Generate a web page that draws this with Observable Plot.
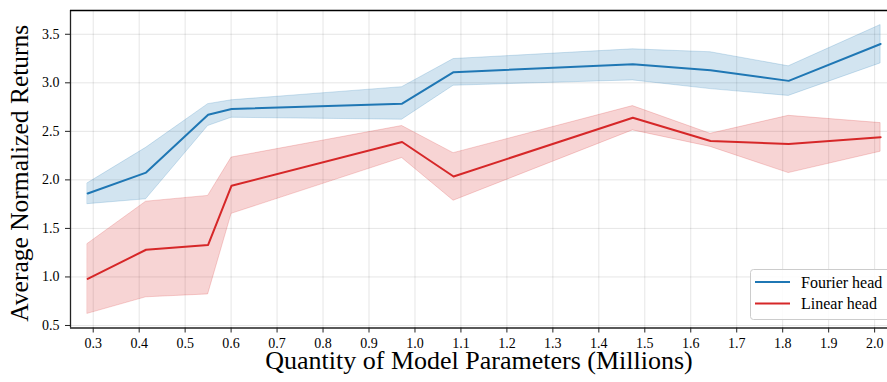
<!DOCTYPE html>
<html>
<head>
<meta charset="utf-8">
<script src="https://cdn.jsdelivr.net/npm/d3@7"></script>
<script src="https://cdn.jsdelivr.net/npm/@observablehq/plot@0.6"></script>
<style>
  html, body { margin: 0; padding: 0; background: #fff; overflow: hidden; }
  #chart { width: 887px; height: 382px; }
  svg, svg text, svg g { font-family: "Liberation Serif", "DejaVu Serif", serif !important; }
</style>
</head>
<body>
<div id="chart"></div>
<script>
// Data
const params      = [0.288, 0.415, 0.55, 0.601, 0.972, 1.084, 1.474, 1.643, 1.813, 2.013];
const fourierMean = [1.86, 2.075, 2.67, 2.73, 2.785, 3.11, 3.19, 3.13, 3.02, 3.40];
const fourierLow  = [1.75, 1.80, 2.555, 2.64, 2.62, 2.97, 3.025, 2.935, 2.865, 3.20];
const fourierHigh = [1.965, 2.33, 2.78, 2.82, 2.955, 3.245, 3.345, 3.315, 3.17, 3.595];
const linearMean  = [0.98, 1.28, 1.33, 1.94, 2.39, 2.035, 2.64, 2.40, 2.37, 2.44];
const linearLow   = [0.62, 0.79, 0.82, 1.65, 2.225, 1.785, 2.51, 2.34, 2.07, 2.29];
const linearHigh  = [1.34, 1.775, 1.835, 2.23, 2.555, 2.275, 2.76, 2.475, 2.66, 2.585];
const seriesNames = ["Fourier head", "Linear head"];
const seriesColors = ["#1f77b4", "#d62728"];
const xTicks = [0.3,0.4,0.5,0.6,0.7,0.8,0.9,1.0,1.1,1.2,1.3,1.4,1.5,1.6,1.7,1.8,1.9,2.0];
const yTicks = [0.5,1.0,1.5,2.0,2.5,3.0,3.5];
const xLabel = "Quantity of Model Parameters (Millions)";
const yLabel = "Average Normalized Returns";

const rows = [];
params.forEach((x, i) => {
  rows.push({series: seriesNames[0], x, mean: fourierMean[i], low: fourierLow[i], high: fourierHigh[i]});
  rows.push({series: seriesNames[1], x, mean: linearMean[i], low: linearLow[i], high: linearHigh[i]});
});

const xDomain = [0.2506, 2.028];
const yDomain = [0.474, 3.745];
const font = "Liberation Serif, DejaVu Serif, serif";

const chart = Plot.plot({
  width: 887,
  height: 382,
  marginLeft: 70,
  marginRight: 0,
  marginTop: 10,
  marginBottom: 54.5,
  style: {fontFamily: font, background: "#fff", overflow: "visible"},
  x: {domain: xDomain},
  y: {domain: yDomain},
  color: {domain: seriesNames, range: seriesColors},
  marks: [
    Plot.ruleX(xTicks, {stroke: "#000", strokeOpacity: 0.1, strokeWidth: 1}),
    Plot.ruleY(yTicks, {stroke: "#000", strokeOpacity: 0.1, strokeWidth: 1}),
    Plot.areaY(rows, {x: "x", y1: "low", y2: "high", z: "series", fill: "series", fillOpacity: 0.2, stroke: "series", strokeOpacity: 0.2, strokeWidth: 1}),
    Plot.lineY(rows, {x: "x", y: "mean", z: "series", stroke: "series", strokeWidth: 2}),
    Plot.axisX(xTicks, {tickSize: 5, tickPadding: 5, fontSize: 14, tickFormat: d3.format(".1f"), label: null, stroke: "#222"}),
    Plot.axisY(yTicks, {tickSize: 5, tickPadding: 6, fontSize: 14, tickFormat: d3.format(".1f"), label: null, stroke: "#222"}),
    Plot.ruleX([xDomain[0]], {stroke: "#222", strokeWidth: 1.3}),
    Plot.ruleY([yDomain[0]], {stroke: "#222", strokeWidth: 1.3}),
    Plot.ruleY([yDomain[1]], {stroke: "#000", strokeWidth: 1.5}),
    Plot.text([xLabel], {frameAnchor: "bottom", dy: 41, fontSize: 26, fill: "#000"}),
    Plot.text([yLabel], {frameAnchor: "left", textAnchor: "middle", dx: -51, dy: 4, rotate: -90, fontSize: 25.5, fill: "#000"})
  ]
});

// Legend inside plot (lower right)
const svg = d3.select(chart);
const lg = svg.append("g").attr("font-family", font).attr("text-anchor", "start");
lg.append("rect").attr("x", 750.5).attr("y", 269.5).attr("width", 160).attr("height", 50)
  .attr("rx", 3).attr("fill", "#fff").attr("fill-opacity", 0.85).attr("stroke", "#ccc").attr("stroke-width", 1);
seriesNames.forEach((name, i) => {
  const yy = 282 + i * 21.5;
  lg.append("line").attr("x1", 755).attr("x2", 790).attr("y1", yy).attr("y2", yy)
    .attr("stroke", seriesColors[i]).attr("stroke-width", 2);
  lg.append("text").attr("x", 801).attr("y", yy).attr("dy", "0.35em")
    .attr("text-anchor", "start").attr("font-size", 16).attr("fill", "#000").text(name);
});

document.getElementById("chart").appendChild(chart);
</script>
</body>
</html>
